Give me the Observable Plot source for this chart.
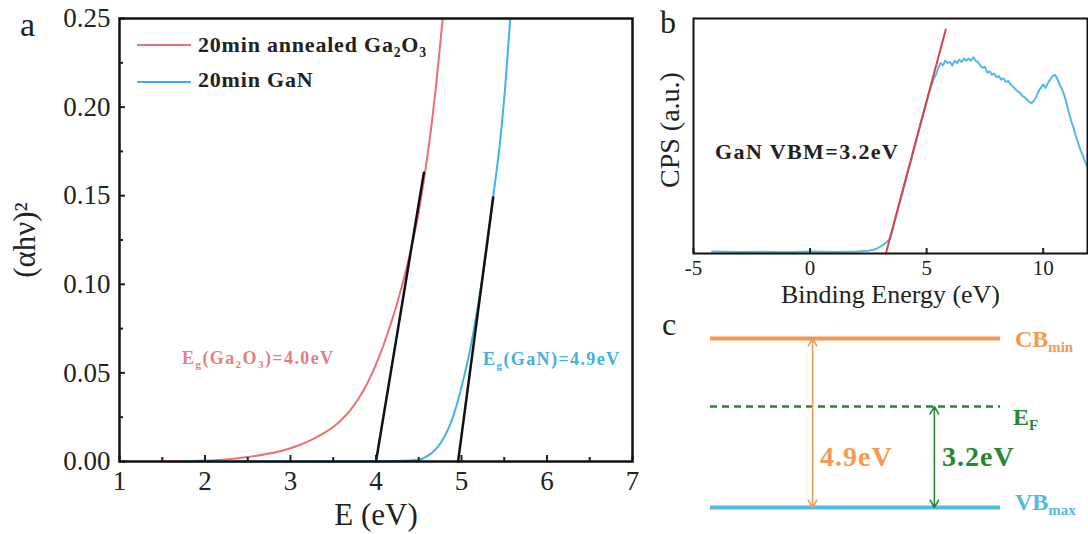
<!DOCTYPE html>
<html><head><meta charset="utf-8">
<script src="https://cdn.jsdelivr.net/npm/d3@7"></script>
<script src="https://cdn.jsdelivr.net/npm/@observablehq/plot@0.6"></script>
<style>
html,body{margin:0;padding:0;background:#fff;}
#wrap{position:relative;width:1088px;height:534px;overflow:hidden;background:#fff;font-family:"Liberation Serif",serif;}
#wrap > .p{position:absolute;}
.t{position:absolute;line-height:1;white-space:nowrap;font-weight:bold;}
.t sub{font-size:62%;vertical-align:baseline;position:relative;top:0.35em;}
.sw{position:absolute;height:0;}
</style></head>
<body><div id="wrap"></div>
<script>
// ---------- Panel a: (αhν)^2 vs E ----------
const ga2o3E = [1.53, 1.75, 2.0, 2.25, 2.5, 2.75, 2.9, 3.0, 3.1, 3.2, 3.3, 3.4, 3.5, 3.6, 3.7, 3.8, 3.9, 4.0, 4.1, 4.2, 4.3, 4.4, 4.5, 4.6, 4.65, 4.7, 4.75, 4.78];
const ga2o3V = [0, 0.0001, 0.0005, 0.0012, 0.0025, 0.0045, 0.0061, 0.0075, 0.0092, 0.0112, 0.0136, 0.0163, 0.0195, 0.0237, 0.029, 0.0358, 0.0443, 0.0548, 0.0673, 0.0818, 0.0985, 0.1178, 0.1408, 0.172, 0.19, 0.211, 0.235, 0.25];
const ganE = [1.74, 2.5, 3.5, 4.0, 4.3, 4.5, 4.6, 4.7, 4.8, 4.85, 4.9, 4.95, 5.0, 5.05, 5.1, 5.15, 5.2, 5.3, 5.37, 5.45, 5.5, 5.57];
const ganV = [0, 0, 0, 0.0001, 0.0004, 0.001, 0.003, 0.007, 0.014, 0.019, 0.025, 0.033, 0.042, 0.052, 0.063, 0.076, 0.09, 0.122, 0.149, 0.18, 0.205, 0.25];
const fitGa2O3E = [4.0, 4.56], fitGa2O3V = [0, 0.163];
const fitGaNE = [4.96, 5.37], fitGaNV = [0, 0.149];
const xTicksA = [1, 2, 3, 4, 5, 6, 7];
const xMinorA = [1.5, 2.5, 3.5, 4.5, 5.5, 6.5];
const yTicksA = [0, 0.05, 0.10, 0.15, 0.20, 0.25];
const yMinorA = [0.025, 0.075, 0.125, 0.175, 0.225];

// ---------- Panel b: XPS valence band ----------
const xpsE = [-4.2,-3,-2,-1,0,1,2,2.5,2.8,3.0,3.2,3.4,3.5,3.6,3.8,4.0,4.3,4.6,4.9,5.1,5.3,5.4,5.5,5.6,5.7,5.8,5.9,6.0,6.1,6.2,6.3,6.4,6.5,6.6,6.7,6.8,6.9,7.0,7.1,7.2,7.3,7.4,7.5,7.6,7.7,7.8,7.9,8.0,8.1,8.2,8.3,8.4,8.5,8.6,8.7,8.8,8.9,9.0,9.1,9.2,9.3,9.4,9.5,9.6,9.7,9.8,9.9,10.0,10.1,10.2,10.3,10.4,10.5,10.6,10.7,10.8,10.9,11.0,11.1,11.2,11.3,11.4,11.5,11.6,11.7,11.8,11.9];
const xpsV = [0.008,0.006,0.007,0.005,0.008,0.006,0.009,0.012,0.018,0.028,0.042,0.06,0.085,0.125,0.2,0.275,0.385,0.5,0.61,0.68,0.745,0.76,0.79,0.81,0.80,0.82,0.81,0.815,0.80,0.82,0.81,0.825,0.815,0.83,0.82,0.83,0.82,0.835,0.82,0.815,0.80,0.79,0.795,0.77,0.775,0.76,0.765,0.75,0.755,0.74,0.745,0.73,0.735,0.72,0.71,0.70,0.69,0.685,0.67,0.665,0.655,0.645,0.64,0.65,0.665,0.69,0.705,0.72,0.705,0.725,0.74,0.755,0.76,0.745,0.72,0.70,0.675,0.64,0.60,0.565,0.535,0.50,0.47,0.44,0.415,0.39,0.37];
const vbmFitE = [3.25, 5.82], vbmFitV = [0, 0.953];
const xTicksB = [-5, 0, 5, 10];

// ---------- Panel c: band diagram ----------
const levelNames = ["CB", "EF", "VB"];
const levelE = [4.9, 3.2, 0];
const gapNames = ["Eg", "VBM"];
const gapFrom = [0, 0];
const gapTo = [4.9, 3.2];

const zip = (xs, ys) => xs.map((E, i) => ({E, v: ys[i]}));
const RED = "#ec6f74", BLUE = "#3fb4e2", ORANGE = "#f39a50", GREEN = "#24882f", LBLUE = "#55b9e6";
const wrap = document.getElementById("wrap");
function place(node, left, top) { node.classList.add("p"); node.style.left = left + "px"; node.style.top = top + "px"; wrap.appendChild(node); }
function label(html, left, top, size, color, extra) {
  const d = document.createElement("div"); d.className = "t"; d.innerHTML = html;
  d.style.left = left + "px"; d.style.top = top + "px"; d.style.fontSize = size + "px"; d.style.color = color;
  if (extra) Object.assign(d.style, extra);
  wrap.appendChild(d); return d;
}
function swatch(left, top, w, color) {
  const d = document.createElement("div"); d.className = "sw";
  Object.assign(d.style, {left: left + "px", top: top + "px", width: w + "px", borderTop: `2.5px solid ${color}`});
  wrap.appendChild(d);
}

const serif = "Liberation Serif";

const plotA = Plot.plot({
  width: 650, height: 534,
  marginLeft: 119, marginRight: 18, marginTop: 18, marginBottom: 73,
  x: {domain: [1, 7]},
  y: {domain: [0, 0.25]},
  style: {fontFamily: serif, fontSize: "27px", color: "#222", background: "transparent", overflow: "visible"},
  marks: [
    Plot.line(zip(ga2o3E, ga2o3V), {x: "E", y: "v", stroke: RED, strokeWidth: 2, curve: "monotone-x"}),
    Plot.line(zip(ganE, ganV), {x: "E", y: "v", stroke: BLUE, strokeWidth: 2, curve: "monotone-x"}),
    Plot.line(zip(fitGa2O3E, fitGa2O3V), {x: "E", y: "v", stroke: "#111", strokeWidth: 2.5}),
    Plot.line(zip(fitGaNE, fitGaNV), {x: "E", y: "v", stroke: "#111", strokeWidth: 2.5}),
    Plot.axisX({ticks: xTicksA, tickSize: -6, tickPadding: 15, tickFormat: d3.format("d"), label: null, strokeWidth: 2}),
    Plot.axisX({ticks: xMinorA, tickSize: -4, tickFormat: () => "", label: null, strokeWidth: 2}),
    Plot.axisY({ticks: yTicksA, tickSize: -6, tickPadding: 15, tickFormat: d3.format(".2f"), label: null, strokeWidth: 2}),
    Plot.axisY({ticks: yMinorA, tickSize: -4, tickFormat: () => "", label: null, strokeWidth: 2}),
    Plot.frame({stroke: "#111", strokeWidth: 2.5}),
    Plot.text(["E (eV)"], {frameAnchor: "bottom", lineAnchor: "bottom", dy: 63, fontSize: 31, fill: "#222"}),
    Plot.text(["(αhν)²"], {frameAnchor: "left", textAnchor: "middle", lineAnchor: "middle", dx: -94, rotate: -90, fontSize: 31, fill: "#222"})
  ]
});
place(plotA, 0, 0);

const plotB = Plot.plot({
  width: 448, height: 310,
  marginLeft: 53, marginRight: 1, marginTop: 18, marginBottom: 57,
  x: {domain: [-5, 11.9]},
  y: {domain: [0, 1], axis: null},
  style: {fontFamily: serif, fontSize: "21px", color: "#222", background: "transparent", overflow: "visible"},
  marks: [
    Plot.line(zip(xpsE, xpsV), {x: "E", y: "v", stroke: LBLUE, strokeWidth: 2}),
    Plot.line(zip(vbmFitE, vbmFitV), {x: "E", y: "v", stroke: "#d8434b", strokeWidth: 2}),
    Plot.axisX({ticks: xTicksB, tickSize: -5, tickPadding: 12, tickFormat: d => String(d), label: null, strokeWidth: 2}),
    Plot.frame({stroke: "#111", strokeWidth: 2}),
    Plot.text(["Binding Energy (eV)"], {frameAnchor: "bottom", lineAnchor: "bottom", dy: 49, fontSize: 26, fill: "#222"}),
    Plot.text(["CPS (a.u.)"], {frameAnchor: "left", textAnchor: "middle", lineAnchor: "middle", dx: -23, dy: -6, rotate: -90, fontSize: 28, fill: "#222"})
  ]
});
place(plotB, 640, 0);

const levels = levelNames.map((n, i) => ({n, E: levelE[i]}));
const gaps = gapNames.map((n, i) => ({n, a: gapFrom[i], b: gapTo[i], mid: (gapFrom[i] + gapTo[i]) / 2}));
const plotC = Plot.plot({
  width: 408, height: 234,
  marginLeft: 30, marginRight: 88, marginTop: 38, marginBottom: 27,
  x: {domain: [0, 1], axis: null},
  y: {type: "pow", exponent: 1.21, domain: [0, 4.9], axis: null},
  color: {domain: levelNames, range: [ORANGE, GREEN, LBLUE]},
  style: {fontFamily: serif, background: "transparent", overflow: "visible"},
  marks: [
    Plot.ruleY(levels.filter(d => d.n !== "EF"), {y: "E", stroke: "n", strokeWidth: 4}),
    Plot.ruleY(levels.filter(d => d.n === "EF"), {y: "E", stroke: "n", strokeWidth: 2.5, strokeDasharray: "7,5"}),
    Plot.arrow(gaps.filter(d => d.n === "Eg"), {x: 0.352, y1: "mid", y2: "b", stroke: ORANGE, strokeWidth: 1.6, headLength: 8}),
    Plot.arrow(gaps.filter(d => d.n === "Eg"), {x: 0.352, y1: "mid", y2: "a", stroke: ORANGE, strokeWidth: 1.6, headLength: 8}),
    Plot.arrow(gaps.filter(d => d.n === "VBM"), {x: 0.772, y1: "mid", y2: "b", stroke: GREEN, strokeWidth: 1.6, headLength: 8}),
    Plot.arrow(gaps.filter(d => d.n === "VBM"), {x: 0.772, y1: "mid", y2: "a", stroke: GREEN, strokeWidth: 1.6, headLength: 8})
  ]
});
place(plotC, 680, 300);

// Legend (panel a)
swatch(137, 44, 54, RED);
swatch(137, 81, 54, BLUE);
label("20min annealed Ga<sub>2</sub>O<sub>3</sub>", 198, 34, 22, "#222", {letterSpacing: "0.8px"});
label("20min GaN", 198, 69, 22, "#222", {letterSpacing: "0.8px"});
// Annotations (panel a)
label("E<sub>g</sub>(Ga<sub>2</sub>O<sub>3</sub>)=4.0eV", 182, 349, 18, "#e77d83", {letterSpacing: "1.4px"});
label("E<sub>g</sub>(GaN)=4.9eV", 483, 350, 18, "#3db2e0", {letterSpacing: "1.4px"});
// Panel b annotation
label("GaN VBM=3.2eV", 715, 141, 22, "#222", {letterSpacing: "1.4px"});
// Panel c labels
label("CB<sub>min</sub>", 1015, 327, 24, ORANGE);
label("E<sub>F</sub>", 1013, 405, 24, GREEN);
label("VB<sub>max</sub>", 1015, 490, 24, LBLUE);
label("4.9eV", 820, 443, 28, ORANGE, {letterSpacing: "1px"});
label("3.2eV", 942, 443, 28, GREEN, {letterSpacing: "1px"});
// Panel letters
label("a", 20, 8, 34, "#222", {fontWeight: "normal"});
label("b", 660, 6, 32, "#222", {fontWeight: "normal"});
label("c", 662, 308, 32, "#222", {fontWeight: "normal"});
</script></body></html>
